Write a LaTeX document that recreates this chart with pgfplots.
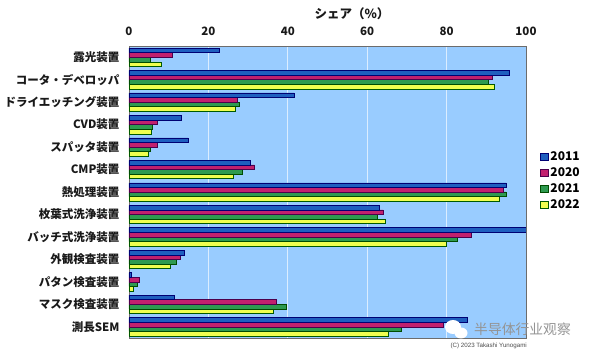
\documentclass[border=0pt]{standalone}
\usepackage{pgfplots}
\usepackage{pgfplotstable}
\pgfplotsset{compat=1.18}
\usepackage{fontspec}
\setmainfont{Liberation Sans}
\newfontfamily\jp{Noto Sans CJK JP}
\newfontfamily\cnf{Noto Sans CJK SC}
\definecolor{bgc}{HTML}{99CCFF}
\definecolor{cA}{HTML}{1F5FBF}
\definecolor{cB}{HTML}{C2206E}
\definecolor{cC}{HTML}{2E9A50}
\definecolor{cD}{HTML}{F0FF50}
\pgfplotstableread{
y  a    b    c    d
12 22.7 10.9 5.3  8.1
11 95.8 91.4 90.6 91.9
10 41.5 27.3 27.7 26.7
9  13.1 7.0  5.8  5.5
8  14.9 7.0  5.3  4.8
7  30.5 31.6 28.6 26.2
6  95.0 94.3 94.9 93.2
5  63.1 64.0 62.5 64.5
4  100  86.2 82.7 80.0
3  13.9 12.9 11.9 10.4
2  0.6  2.6  2.0  1.0
1  11.4 37.2 39.6 36.3
0  85.3 79.2 68.6 65.4
}\datatab
\begin{document}
\begin{tikzpicture}[x=1pt,y=1pt]
\path (0,0) rectangle (590,355);
\begin{axis}[
  at={(129pt,17pt)},anchor=south west,
  scale only axis,width=397pt,height=292pt,
  xbar=0pt,bar width=4.6pt,
  xmin=0,xmax=100,ymin=-0.5,ymax=12.5,
  xtick={0,20,40,60,80,100},
  ytick={0,...,12},
  yticklabels={測長SEM,マスク検査装置,パタン検査装置,外観検査装置,バッチ式洗浄装置,枚葉式洗浄装置,熱処理装置,CMP装置,スパッタ装置,CVD装置,ドライエッチング装置,コータ・デベロッパ,露光装置},
  xticklabel pos=top,
  major tick length=0pt,
  /pgf/number format/assume math mode=true,
  ticklabel style={font=\jp\bfseries\fontsize{11.5}{13}\selectfont,text=black!90},
  yticklabel style={xshift=-6pt},
  xticklabel style={yshift=7pt},
  axis background/.style={fill=bgc},
  axis line style={draw=gray!85!black,line width=0.9pt},
  xmajorgrids,grid style={draw=white!65!bgc,line width=0.7pt},
  legend style={draw=none,fill=none,
    font=\jp\bfseries\fontsize{12}{13}\selectfont,row sep=1.6pt,
    at={(1.036,0.645)},anchor=north west,inner sep=0pt},
  legend cell align=left,
  reverse legend,
  area legend,
  legend image code/.code={\draw[#1] (0pt,-3.5pt) rectangle (7.5pt,3.5pt);},
]
\addplot[fill=cD,draw=green!35!black,line width=0.5pt] table[x=d,y=y]{\datatab};
\addplot[fill=cC,draw=green!30!black,line width=0.5pt] table[x=c,y=y]{\datatab};
\addplot[fill=cB,draw=violet!60!black,line width=0.5pt] table[x=b,y=y]{\datatab};
\addplot[fill=cA,draw=blue!45!black,line width=0.5pt] table[x=a,y=y]{\datatab};
\legend{2022,2021,2020,2011}
\end{axis}
\node[font=\jp\bfseries\fontsize{12.5}{13}\selectfont,text=black!90] at (352,341) {シェア（\%）};
\fill[white] (453,355-327) ellipse (8 and 7);
\fill[white] (461,355-333) ellipse (6.5 and 5.5);
\node[font=\cnf\fontsize{13.8}{15}\selectfont,text=black!42,anchor=west,inner sep=0pt] at (474,355-329) {半导体行业观察};
\node[font=\fontsize{6.2}{8}\selectfont,text=black!70,anchor=east,inner sep=0pt] at (527,355-346) {(C) 2023 Takashi Yunogami};
\end{tikzpicture}
\end{document}
